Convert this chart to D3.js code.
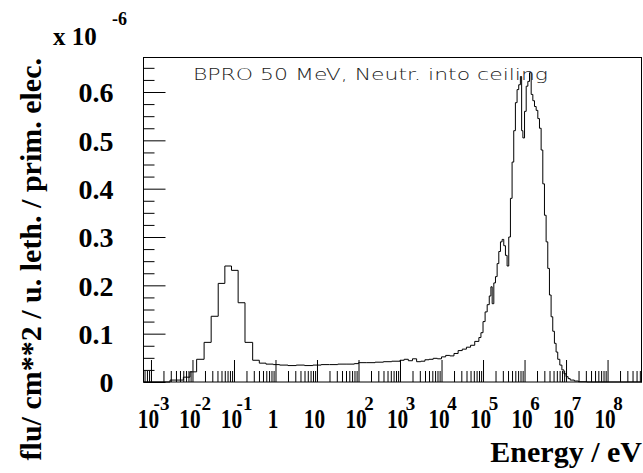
<!DOCTYPE html>
<html>
<head>
<meta charset="utf-8">
<script src="https://cdn.jsdelivr.net/npm/d3@7"></script>
<style>
  body { margin: 0; background: #fff; }
  svg { display: block; }
  .lbl { font-family: 'Liberation Serif', 'Times New Roman', serif; font-weight: bold; fill: #000; }
  .axis line { stroke: #000; }
  .axis path.domain { display: none; }
</style>
</head>
<body>
<div id="chart"></div>
<script>
// Bin edges are log10(E / eV); flux in units of 1e-6
const thermalEdges = [-2.54, -2.22, -2.06, -1.90, -1.72, -1.55, -1.38, -1.22, -1.06, -0.90, -0.735, -0.55, -0.39, -0.23, -0.053];
const thermalFlux  = [0.004, 0.010, 0.021, 0.047, 0.082, 0.136, 0.204, 0.240, 0.231, 0.164, 0.082, 0.045, 0.039, 0.037];

// finer bins above ~1 eV (first edge = last thermal edge)
const fastEdges = [-0.053, 0.1, 0.3, 0.5, 0.7, 0.9, 1.1, 1.3, 1.5, 1.7, 1.9, 2.0, 2.2, 2.4, 2.6, 2.8, 3.0,
  3.1, 3.2, 3.3, 3.4, 3.5, 3.6, 3.7, 3.8, 3.9, 4.0, 4.1, 4.2, 4.3, 4.4, 4.5, 4.6, 4.7, 4.8, 4.9, 4.95,
  5.0, 5.05, 5.1, 5.15, 5.19, 5.22, 5.26, 5.3, 5.34, 5.38, 5.42, 5.46, 5.5, 5.54, 5.58, 5.62, 5.66,
  5.7, 5.74, 5.78, 5.82, 5.86, 5.9, 5.93, 5.96, 6.0, 6.04, 6.08, 6.12, 6.16, 6.2, 6.24, 6.28, 6.32,
  6.36, 6.4, 6.44, 6.48, 6.52, 6.56, 6.6, 6.64, 6.68, 6.72, 6.76, 6.8, 6.85, 6.9, 6.95, 7.0, 7.05,
  7.1, 7.2, 7.3, 7.5];
const fastFlux = [0.036, 0.035, 0.034, 0.035, 0.034, 0.035, 0.036, 0.036, 0.037, 0.037, 0.038,
  0.040, 0.040, 0.041, 0.042, 0.043,
  0.045, 0.047, 0.044, 0.048, 0.042, 0.043, 0.046, 0.047, 0.049, 0.048,
  0.052, 0.055, 0.054, 0.059, 0.065, 0.068, 0.072, 0.076, 0.084, 0.092, 0.102,
  0.125, 0.145, 0.160, 0.178, 0.197, 0.162, 0.205, 0.218, 0.245, 0.270, 0.290, 0.295, 0.282, 0.262,
  0.240, 0.300, 0.380, 0.455, 0.520, 0.578, 0.605, 0.615, 0.632, 0.520, 0.505,
  0.560, 0.612, 0.622, 0.640, 0.595, 0.582, 0.570, 0.562, 0.545, 0.525, 0.480, 0.410, 0.345, 0.290,
  0.235, 0.180, 0.135, 0.105, 0.080, 0.062, 0.047, 0.035, 0.025, 0.017, 0.011, 0.007, 0.004, 0.002, 0.0005];

const xDecades = [-3, -2, -1, 0, 1, 2, 3, 4, 5, 6, 7, 8];
const yTicks = [0, 0.1, 0.2, 0.3, 0.4, 0.5, 0.6];

const plotTitle = 'BPRO 50 MeV, Neutr. into ceiling';
const xTitle = 'Energy / eV';
const yTitle = 'flu/ cm**2 / u. leth. / prim. elec.';

class LethargyPlot {
  constructor(_config) {
    this.config = {
      parentElement: _config.parentElement,
      containerWidth: 643,
      containerHeight: 473,
      frame: { left: 143.5, top: 57.5, right: 641.5, bottom: 382 }
    };
    this.initVis();
  }

  initVis() {
    let vis = this;
    const f = vis.config.frame;

    vis.xScale = d3.scaleLog()
        .domain([Math.pow(10, -3.18), Math.pow(10, 8.83)])
        .range([f.left, f.right + 0.5]);
    vis.yScale = d3.scaleLinear()
        .domain([0, 0.6714])
        .range([f.bottom, f.top]);

    vis.svg = d3.select(vis.config.parentElement).append('svg')
        .attr('width', vis.config.containerWidth)
        .attr('height', vis.config.containerHeight);

    vis.renderVis();
  }

  renderVis() {
    let vis = this;
    const f = vis.config.frame;

    // x minor ticks (2..9 per decade)
    const xMinor = [];
    for (let e = -4; e <= 8; e++) {
      for (let m = 2; m <= 9; m++) {
        const v = m * Math.pow(10, e);
        if (v > vis.xScale.domain()[0] && v < vis.xScale.domain()[1]) xMinor.push(v);
      }
    }
    vis.svg.append('g')
        .attr('class', 'axis')
        .attr('transform', `translate(0,${f.bottom})`)
        .call(d3.axisBottom(vis.xScale).tickValues(xMinor).tickSizeInner(-11).tickSizeOuter(0).tickFormat(''));

    // x major ticks; labels rebuilt as "10" + superscript exponent
    const xAxisG = vis.svg.append('g')
        .attr('class', 'axis')
        .attr('transform', `translate(0,${f.bottom})`)
        .call(d3.axisBottom(vis.xScale)
            .tickValues(xDecades.map(e => Math.pow(10, e)))
            .tickSizeInner(-22).tickSizeOuter(0).tickFormat(''));
    xAxisG.selectAll('.tick').each(function(d) {
      const e = Math.round(Math.log10(d));
      const g = d3.select(this);
      g.selectAll('text').remove();
      g.append('text')
          .attr('class', 'lbl')
          .attr('text-anchor', 'middle')
          .attr('transform', 'translate(-3,46) scale(0.76,1)')
          .style('font-size', '28px')
          .text(e === 0 ? '1' : '10');
      if (e !== 0 && e !== 1) {
        g.append('text')
            .attr('class', 'lbl')
            .attr('x', 10).attr('y', 28)
            .style('font-size', '19px')
            .text(e);
      }
    });

    // y minor ticks
    const yMinor = d3.range(0, 0.67, 0.025).filter(v => Math.abs(v * 10 - Math.round(v * 10)) > 1e-6);
    vis.svg.append('g')
        .attr('class', 'axis')
        .attr('transform', `translate(${f.left},0)`)
        .call(d3.axisLeft(vis.yScale).tickValues(yMinor).tickSizeInner(-11).tickSizeOuter(0).tickFormat(''));

    const yAxisG = vis.svg.append('g')
        .attr('class', 'axis')
        .attr('transform', `translate(${f.left},0)`)
        .call(d3.axisLeft(vis.yScale).tickValues(yTicks)
            .tickSizeInner(-22).tickSizeOuter(0).tickPadding(30)
            .tickFormat(d => d === 0 ? '0' : d3.format('.1f')(d)));
    yAxisG.selectAll('.tick text')
        .attr('class', 'lbl')
        .style('font-size', '28px')
        .attr('dy', '0.35em');

    // frame
    vis.svg.append('rect')
        .attr('x', f.left).attr('y', f.top)
        .attr('width', f.right - f.left).attr('height', f.bottom - f.top)
        .attr('fill', 'none').attr('stroke', '#000').attr('stroke-width', 1);

    // histogram as step line
    const pts = [[vis.xScale.domain()[0], 0]];
    thermalFlux.forEach((v, i) => pts.push([Math.pow(10, thermalEdges[i]), v]));
    fastFlux.forEach((v, i) => pts.push([Math.pow(10, fastEdges[i]), v]));
    pts.push([Math.pow(10, fastEdges[fastEdges.length - 1]), 0]);
    pts.push([vis.xScale.domain()[1], 0]);

    const line = d3.line()
        .x(d => vis.xScale(d[0]))
        .y(d => vis.yScale(d[1]))
        .curve(d3.curveStepAfter);

    vis.svg.append('path')
        .datum(pts)
        .attr('d', line)
        .attr('fill', 'none')
        .attr('stroke', '#000')
        .attr('stroke-width', 1);

    // text in the frame
    vis.svg.append('text')
        .attr('x', 193).attr('y', 79.5)
        .attr('textLength', 355).attr('lengthAdjust', 'spacingAndGlyphs')
        .style('font-family', "'DejaVu Sans', sans-serif")
        .style('font-weight', 200)
        .style('font-size', '16px')
        .attr('fill', '#222')
        .text(plotTitle);

    // axis titles
    vis.svg.append('text')
        .attr('class', 'lbl')
        .attr('x', 642).attr('y', 462)
        .attr('text-anchor', 'end')
        .style('font-size', '30px')
        .text(xTitle);

    vis.svg.append('text')
        .attr('class', 'lbl')
        .attr('text-anchor', 'end')
        .attr('transform', `translate(41,58) rotate(-90)`)
        .style('font-size', '30px')
        .text(yTitle);

    // exponent
    vis.svg.append('text')
        .attr('class', 'lbl')
        .attr('x', 53).attr('y', 45)
        .style('font-size', '25px')
        .text('x 10');
    vis.svg.append('text')
        .attr('class', 'lbl')
        .attr('x', 112).attr('y', 25)
        .style('font-size', '18px')
        .text('-6');
  }
}

new LethargyPlot({ parentElement: '#chart' });
</script>
</body>
</html>
